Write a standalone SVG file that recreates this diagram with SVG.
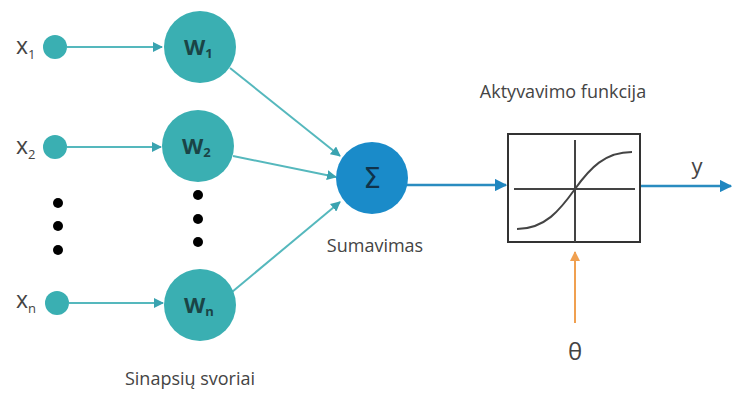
<svg xmlns="http://www.w3.org/2000/svg" width="733" height="394" viewBox="0 0 733 394">
<defs>
<style>
.lbl{font-family:"Open Sans","Liberation Sans",sans-serif;fill:#444;}
.in{fill:#3aafb2;}
.w{fill:#3aafb2;}
.wt{font-family:"Open Sans","Liberation Sans",sans-serif;font-size:22px;font-weight:bold;fill:#1a4446;}
.con{stroke:#55b8bd;stroke-width:2;fill:none;}
.dot{fill:#000;}
</style>
<marker id="at" viewBox="0 0 10 10" refX="9" refY="5" markerWidth="5" markerHeight="5" orient="auto"><path d="M0,0 L10,5 L0,10 z" fill="#3aa3b0"/></marker>
<marker id="ab" viewBox="0 0 10 10" refX="9" refY="5" markerWidth="5" markerHeight="5" orient="auto"><path d="M0,0 L10,5 L0,10 z" fill="#1f86c0"/></marker>
<marker id="ao" viewBox="0 0 10 10" refX="9" refY="5" markerWidth="5" markerHeight="5" orient="auto"><path d="M0,0 L10,5 L0,10 z" fill="#f0a050"/></marker>
</defs>
<rect width="733" height="394" fill="#fff"/>
<g id="connectors">
<line class="con" x1="67" y1="47" x2="162" y2="47" marker-end="url(#at)"/>
<line class="con" x1="67" y1="147" x2="161" y2="147" marker-end="url(#at)"/>
<line class="con" x1="69" y1="303" x2="163" y2="303" marker-end="url(#at)"/>
<line class="con" x1="230" y1="68" x2="340" y2="156" marker-end="url(#at)"/>
<line class="con" x1="233" y1="156" x2="336" y2="177" marker-end="url(#at)"/>
<line class="con" x1="232" y1="292" x2="340" y2="202" marker-end="url(#at)"/>
<line x1="407" y1="185" x2="506" y2="185" stroke="#2a8cc0" stroke-width="2.5" marker-end="url(#ab)"/>
<line x1="640" y1="186" x2="731" y2="186" stroke="#2a8cc0" stroke-width="2.5" marker-end="url(#ab)"/>
<line x1="575" y1="323" x2="575" y2="252" stroke="#f0a050" stroke-width="2" marker-end="url(#ao)"/>
</g>
<g id="x1"><circle class="in" cx="55" cy="47" r="12"/><text class="lbl" x="16" y="54" font-size="23">x<tspan font-size="13" dy="5">1</tspan></text></g>
<g id="x2"><circle class="in" cx="55" cy="147" r="12"/><text class="lbl" x="16" y="154" font-size="23">x<tspan font-size="13" dy="5">2</tspan></text></g>
<g id="xn"><circle class="in" cx="57" cy="303" r="12"/><text class="lbl" x="16" y="308" font-size="23">x<tspan font-size="13" dy="5">n</tspan></text></g>
<g id="dots-x"><circle class="dot" cx="58" cy="203" r="5"/><circle class="dot" cx="58" cy="226" r="5"/><circle class="dot" cx="58" cy="250" r="5"/></g>
<g id="dots-w"><circle class="dot" cx="198" cy="195" r="5"/><circle class="dot" cx="198" cy="219" r="5"/><circle class="dot" cx="198" cy="242" r="5"/></g>
<g id="w1"><circle class="w" cx="200" cy="47" r="36"/><text class="wt" x="184" y="55">W<tspan font-size="13" dy="3">1</tspan></text></g>
<g id="w2"><circle class="w" cx="198" cy="146" r="36"/><text class="wt" x="182" y="154">W<tspan font-size="13" dy="3">2</tspan></text></g>
<g id="wn"><circle class="w" cx="200" cy="305" r="36"/><text class="wt" x="184" y="313">W<tspan font-size="13" dy="3">n</tspan></text></g>
<g id="sum"><circle cx="372" cy="178" r="36" fill="#1a8bc9"/><text x="372" y="188" font-family="DejaVu Sans,sans-serif" font-size="28" fill="#10334a" text-anchor="middle">Σ</text>
<text class="lbl" x="375" y="252" font-size="18" text-anchor="middle">Sumavimas</text></g>
<g id="activation">
<text class="lbl" x="563" y="98" font-size="18" text-anchor="middle">Aktyvavimo funkcija</text>
<rect x="508" y="134" width="132" height="108" fill="#fff" stroke="#333" stroke-width="2"/>
<line x1="514" y1="189" x2="635" y2="189" stroke="#444" stroke-width="2"/>
<line x1="575" y1="140" x2="575" y2="242" stroke="#444" stroke-width="2"/>
<path d="M517,229 C545,229 560,210 575,189 C590,168 605,152 632,152" fill="none" stroke="#444" stroke-width="2"/>
</g>
<g id="y"><text class="lbl" x="697" y="174" font-size="22" text-anchor="middle">y</text></g>
<g id="theta"><text class="lbl" x="575" y="360" font-size="24" text-anchor="middle">θ</text></g>
<text class="lbl" x="190" y="385" font-size="18" text-anchor="middle">Sinapsių svoriai</text>
</svg>
